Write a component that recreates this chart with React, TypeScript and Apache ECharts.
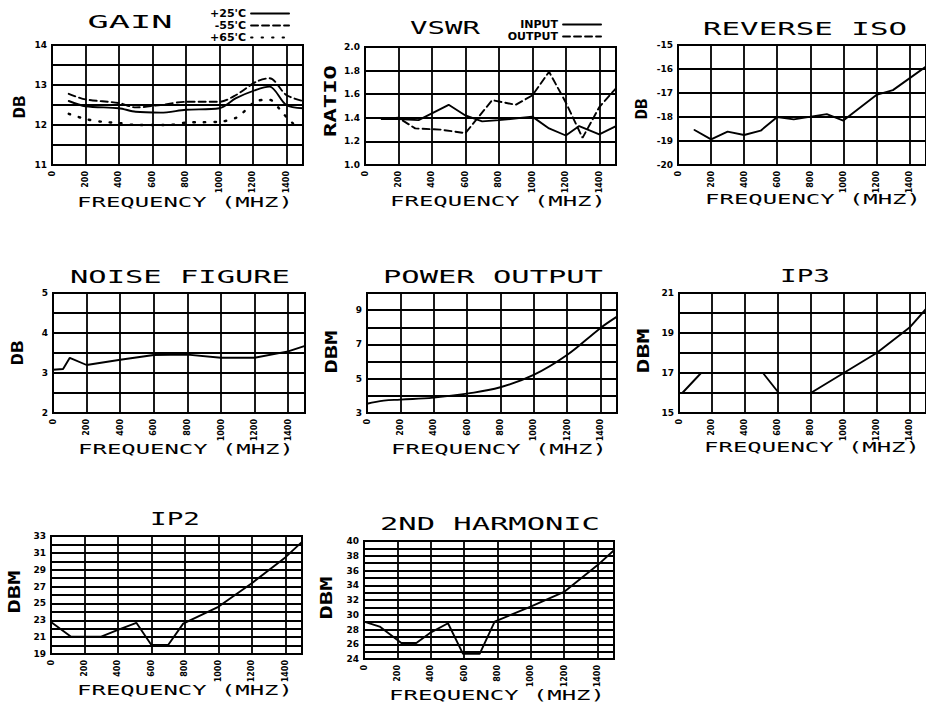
import React, { useEffect, useRef } from "react";
import * as echarts from "echarts";

// ---------------- DATA ----------------
const FREQ_MIN = 0;
const FREQ_MAX = 1500;
const FREQ_STEP = 200;
const X_NAME = "FREQUENCY (MHZ)";

const TITLES = ["GAIN", "VSWR", "REVERSE ISO", "NOISE FIGURE", "POWER OUTPUT", "IP3", "IP2", "2ND HARMONIC"];
const Y_NAMES = ["DB", "RATIO", "DB", "DB", "DBM", "DBM", "DBM", "DBM"];
const Y_MIN = [11, 1.0, -20, 2, 3, 15, 19, 24];
const Y_MAX = [14, 2.0, -15, 5, 10, 21, 33, 40];
const Y_STEP = [0.5, 0.2, 1, 0.5, 1, 1, 1, 1];

const GAIN_LEGEND = ["+25'C", "-55'C", "+65'C"];
const VSWR_LEGEND = ["INPUT", "OUTPUT"];

const gain25Freq = [100, 200, 400, 500, 650, 800, 1000, 1100, 1220, 1300, 1400, 1500];
const gain25Db = [12.6, 12.47, 12.42, 12.33, 12.31, 12.38, 12.42, 12.67, 12.88, 12.96, 12.5, 12.42];
const gainM55Freq = [100, 200, 400, 500, 650, 800, 1000, 1100, 1220, 1300, 1400, 1500];
const gainM55Db = [12.78, 12.64, 12.55, 12.44, 12.5, 12.58, 12.58, 12.75, 13.08, 13.17, 12.75, 12.6];
const gain65Freq = [100, 200, 300, 400, 500, 600, 700, 800, 900, 1000, 1100, 1160, 1220, 1300, 1360, 1400, 1440];
const gain65Db = [12.28, 12.15, 12.08, 12.05, 12.0, 12.0, 12.0, 12.06, 12.07, 12.08, 12.18, 12.38, 12.6, 12.63, 12.4, 12.2, 12.04];

const vswrInFreq = [100, 200, 320, 500, 600, 700, 800, 1000, 1100, 1200, 1280, 1400, 1500];
const vswrIn = [1.39, 1.39, 1.38, 1.51, 1.42, 1.37, 1.38, 1.41, 1.31, 1.25, 1.33, 1.26, 1.33];
const vswrOutFreq = [100, 200, 300, 450, 600, 760, 900, 1000, 1100, 1200, 1300, 1400, 1500];
const vswrOut = [1.39, 1.4, 1.31, 1.3, 1.27, 1.55, 1.51, 1.59, 1.79, 1.53, 1.23, 1.49, 1.65];

const revIsoFreq = [100, 200, 300, 400, 500, 600, 700, 900, 1000, 1200, 1300, 1500];
const revIsoDb = [-18.54, -18.93, -18.61, -18.75, -18.57, -18.0, -18.1, -17.88, -18.15, -17.08, -16.88, -15.9];

const noiseFreq = [0, 60, 100, 200, 400, 600, 800, 1000, 1200, 1400, 1500];
const noiseDb = [3.08, 3.1, 3.38, 3.2, 3.33, 3.45, 3.46, 3.38, 3.38, 3.54, 3.68];

const powerFreq = [0, 100, 200, 400, 600, 800, 1000, 1200, 1400, 1500];
const powerDbm = [3.54, 3.72, 3.78, 3.9, 4.13, 4.5, 5.22, 6.38, 7.95, 8.62];

const ip3Freq = [20, 134, 510, 606, 800, 1000, 1200, 1400, 1500];
const ip3Dbm = [16, 17, 17, 16, 16, 17, 18, 19.27, 20.2];

const ip2Freq = [0, 120, 300, 400, 510, 600, 700, 790, 1000, 1200, 1400, 1500];
const ip2Dbm = [22.8, 21.05, 21.06, 21.85, 22.7, 20.07, 20.07, 22.6, 24.6, 27.4, 30.46, 32.3];

const harmFreq = [0, 94, 224, 314, 394, 504, 594, 694, 784, 1000, 1200, 1400, 1500];
const harmDbm = [29.08, 28.4, 26.16, 26.16, 27.5, 28.85, 24.7, 24.7, 29.08, 31.1, 33.1, 36.7, 38.74];

// ---------------- LAYOUT ----------------
const LAYOUT = [
  { grid: { left: 52, top: 45, width: 251, height: 120 }, title: [130, 21.5, 85], xName: [185, 202], yName: [20, 107, 23] },
  { grid: { left: 365, top: 47, width: 251, height: 118 }, title: [445, 28.5, 70], xName: [498, 201], yName: [331, 101, 72] },
  { grid: { left: 678, top: 45, width: 251, height: 120 }, title: [805, 28.5, 204], xName: [813, 199], yName: [642, 109, 21] },
  { grid: { left: 53, top: 293, width: 252, height: 120 }, title: [180, 276.5, 220], xName: [186, 449], yName: [18, 353, 25] },
  { grid: { left: 367, top: 293, width: 250, height: 120 }, title: [493, 276.5, 220], xName: [499, 449], yName: [332, 352, 43] },
  { grid: { left: 679, top: 293, width: 251, height: 120 }, title: [805, 276, 50], xName: [812, 447], yName: [644, 351, 45] },
  { grid: { left: 51, top: 536, width: 251, height: 118 }, title: [175, 518.5, 50], xName: [185, 690], yName: [15, 592, 43] },
  { grid: { left: 364, top: 541, width: 250, height: 118 }, title: [490, 523.5, 220], xName: [497, 695], yName: [327, 598, 43] },
];
const X_NAME_WIDTH = 216;

const SANS = "'DejaVu Sans', sans-serif";
const MONO = "'DejaVu Sans Mono', monospace";

const zip = (xs: number[], ys: number[]) => xs.map((x, i) => [x, ys[i]]);
const isInt = (v: number) => Math.abs(v - Math.round(v)) < 1e-6;

const Y_FORMAT: ((v: number) => string)[] = [
  (v) => (isInt(v) ? String(Math.round(v)) : ""),
  (v) => v.toFixed(1),
  (v) => String(Math.round(v)),
  (v) => (isInt(v) ? String(Math.round(v)) : ""),
  (v) => (Math.round(v) % 2 !== 0 ? String(Math.round(v)) : ""),
  (v) => (Math.round(v) % 2 !== 0 ? String(Math.round(v)) : ""),
  (v) => (Math.round(v) % 2 !== 0 ? String(Math.round(v)) : ""),
  (v) => (Math.round(v) % 2 === 0 ? String(Math.round(v)) : ""),
];

let measureCtx: CanvasRenderingContext2D | null = null;
function measure(text: string, font: string) {
  if (!measureCtx) measureCtx = document.createElement("canvas").getContext("2d");
  if (!measureCtx) return text.length * 10;
  measureCtx.font = font;
  return measureCtx.measureText(text).width;
}

function stretchedText(text: string, cx: number, cy: number, width: number, size: number, weight: string, family: string, rotation = 0) {
  const w = measure(text, `${weight} ${size}px ${family}`);
  const sx = w > 0 ? width / w : 1;
  return {
    type: "text",
    x: cx,
    y: cy,
    rotation,
    scaleX: sx,
    scaleY: 1,
    silent: true,
    z: 10,
    style: {
      text,
      fontSize: size,
      fontFamily: family,
      fontWeight: weight,
      fill: "#000",
      align: "center",
      verticalAlign: "middle",
      textAlign: "center",
      textVerticalAlign: "middle",
    },
  };
}

function lineSeries(name: string, idx: number, data: number[][], type: any = "solid", smooth: number | boolean = false, width = 1.9) {
  return {
    type: "line",
    name,
    xAxisIndex: idx,
    yAxisIndex: idx,
    data,
    symbol: "none",
    showSymbol: false,
    smooth,
    silent: true,
    z: 5,
    lineStyle: { color: "#000", width, type, cap: "round" },
    itemStyle: { color: "#000" },
  };
}

export default function App() {
  const ref = useRef<HTMLDivElement>(null);

  useEffect(() => {
    if (!ref.current) return;
    const chart = echarts.init(ref.current, undefined, { renderer: "svg" });

    const grids = LAYOUT.map((l) => ({
      ...l.grid,
      show: true,
      borderColor: "#000",
      borderWidth: 2,
      backgroundColor: "#fff",
      containLabel: false,
    }));

    const xAxes = LAYOUT.map((_, i) => ({
      type: "value",
      gridIndex: i,
      min: FREQ_MIN,
      max: FREQ_MAX,
      interval: FREQ_STEP,
      axisLine: { show: false },
      axisTick: { show: false },
      splitLine: { show: true, lineStyle: { color: "#000", width: 1.8 } },
      axisLabel: {
        rotate: 90,
        margin: 6,
        fontSize: 8,
        fontWeight: "bold",
        fontFamily: SANS,
        color: "#000",
        showMaxLabel: false,
        formatter: (v: number) => (v % FREQ_STEP === 0 && v < FREQ_MAX ? String(v) : ""),
      },
    }));

    const yAxes = LAYOUT.map((_, i) => ({
      type: "value",
      gridIndex: i,
      min: Y_MIN[i],
      max: Y_MAX[i],
      interval: Y_STEP[i],
      axisLine: { show: false },
      axisTick: { show: false },
      splitLine: { show: true, lineStyle: { color: "#000", width: 1.8 } },
      axisLabel: {
        margin: 5,
        fontSize: 9,
        fontWeight: "bold",
        fontFamily: SANS,
        color: "#000",
        formatter: Y_FORMAT[i],
      },
    }));

    const series = [
      lineSeries(GAIN_LEGEND[0], 0, zip(gain25Freq, gain25Db), "solid", 0.3),
      lineSeries(GAIN_LEGEND[1], 0, zip(gainM55Freq, gainM55Db), [7, 4], 0.3),
      lineSeries(GAIN_LEGEND[2], 0, zip(gain65Freq, gain65Db), [1.5, 9], 0.3, 2.4),
      lineSeries(VSWR_LEGEND[0], 1, zip(vswrInFreq, vswrIn)),
      lineSeries(VSWR_LEGEND[1], 1, zip(vswrOutFreq, vswrOut), [7, 4]),
      lineSeries(TITLES[2], 2, zip(revIsoFreq, revIsoDb)),
      lineSeries(TITLES[3], 3, zip(noiseFreq, noiseDb)),
      lineSeries(TITLES[4], 4, zip(powerFreq, powerDbm), "solid", 0.4),
      lineSeries(TITLES[5], 5, zip(ip3Freq, ip3Dbm)),
      lineSeries(TITLES[6], 6, zip(ip2Freq, ip2Dbm)),
      lineSeries(TITLES[7], 7, zip(harmFreq, harmDbm)),
    ];

    const graphics: any[] = [];
    LAYOUT.forEach((l, i) => {
      graphics.push(stretchedText(TITLES[i], l.title[0], l.title[1], l.title[2], 18, "normal", MONO));
      graphics.push(stretchedText(X_NAME, l.xName[0], l.xName[1], X_NAME_WIDTH, 14, "normal", MONO));
      graphics.push(stretchedText(Y_NAMES[i], l.yName[0], l.yName[1], l.yName[2], 15, "bold", MONO, Math.PI / 2));
    });

    const legendText = {
      fontSize: 11,
      fontWeight: "bold",
      fontFamily: SANS,
      color: "#000",
      lineHeight: 10,
    };
    const legendCommon = {
      orient: "vertical",
      align: "right",
      itemWidth: 38,
      itemHeight: 8,
      itemGap: 1,
      padding: 0,
      selectedMode: false,
      textStyle: legendText,
      itemStyle: { color: "rgba(0,0,0,0)", borderColor: "rgba(0,0,0,0)", borderWidth: 0, opacity: 0 },
      lineStyle: { color: "#000", width: 1.9 },
    };

    chart.setOption({
      animation: false,
      backgroundColor: "#fff",
      grid: grids,
      xAxis: xAxes,
      yAxis: yAxes,
      series,
      legend: [
        { ...legendCommon, data: GAIN_LEGEND, right: 636, top: 8 },
        { ...legendCommon, data: VSWR_LEGEND, right: 324, top: 19 },
      ],
      graphic: { elements: graphics },
    });

    return () => chart.dispose();
  }, []);

  return (
    <div
      ref={ref}
      style={{ position: "absolute", left: 0, top: 0, width: 926, height: 704, background: "#fff" }}
    />
  );
}
